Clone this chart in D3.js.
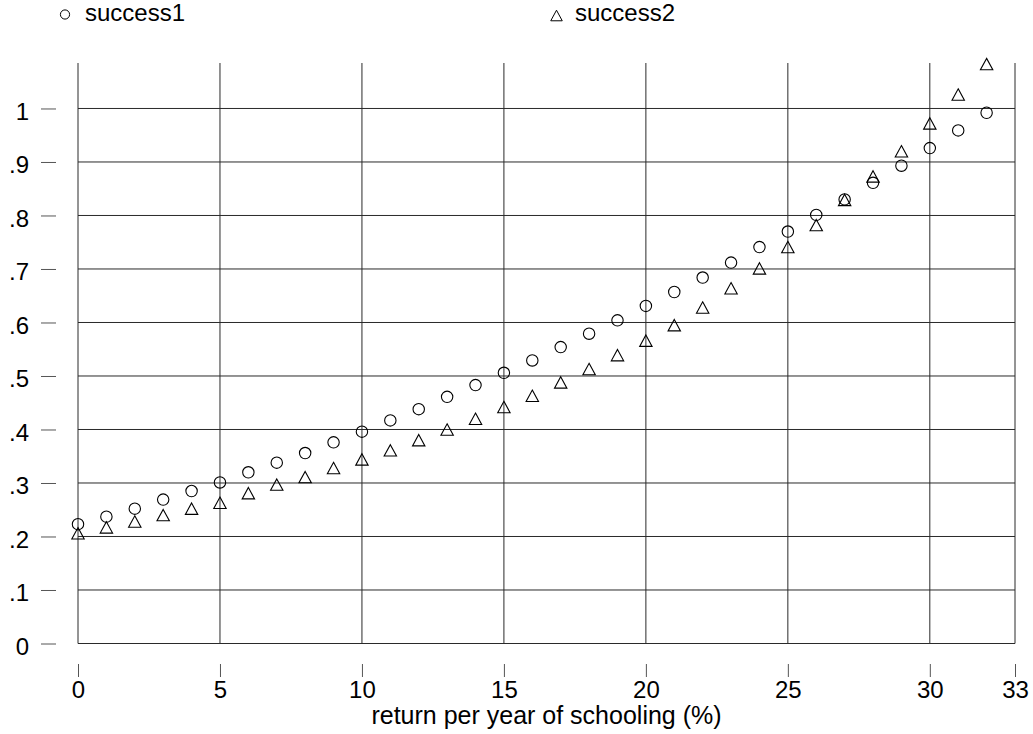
<!DOCTYPE html>
<html>
<head>
<meta charset="utf-8">
<script src="https://cdn.jsdelivr.net/npm/d3@7"></script>
<style>
  html, body { margin: 0; padding: 0; background: #fff; }
  svg { display: block; font-family: "Liberation Sans", Arial, sans-serif; }
</style>
</head>
<body>
<svg id="chart" width="1033" height="734"></svg>
<script>
// ---- data ----
const returns = [0,1,2,3,4,5,6,7,8,9,10,11,12,13,14,15,16,17,18,19,20,21,22,23,24,25,26,27,28,29,30,31,32];
const success1 = [.223,.237,.252,.269,.285,.301,.320,.338,.356,.376,.396,.417,.438,.461,.483,.506,.529,.554,.579,.604,.631,.657,.684,.712,.741,.770,.801,.830,.861,.893,.926,.959,.992];
const success2 = [.206,.217,.228,.240,.252,.263,.281,.297,.311,.328,.344,.361,.380,.400,.420,.442,.463,.488,.513,.539,.566,.595,.628,.664,.701,.741,.782,.829,.873,.920,.972,1.026,1.083];
const xTicks = [0,5,10,15,20,25,30,33];
const yTicks = [0,.1,.2,.3,.4,.5,.6,.7,.8,.9,1];
const yTickLabels = ["0",".1",".2",".3",".4",".5",".6",".7",".8",".9","1"];
const seriesNames = ["success1","success2"];
const xTitle = "return per year of schooling (%)";

// ---- layout ----
const svg = d3.select("#chart");
const x = d3.scaleLinear().domain([0,33]).range([78,1015]);
const y = d3.scaleLinear().domain([0,1.085]).range([643.5,63]);
const gridColor = "#2a2a2a";
const fontSize = 24;

// grid
const grid = svg.append("g");
grid.selectAll("line.h").data(yTicks).join("line")
  .attr("x1", x(0)).attr("x2", x(33))
  .attr("y1", d => y(d)).attr("y2", d => y(d))
  .attr("stroke", gridColor).attr("stroke-width", 1);
grid.selectAll("line.v").data(xTicks).join("line")
  .attr("x1", d => x(d)).attr("x2", d => x(d))
  .attr("y1", y(0)).attr("y2", y(1.085))
  .attr("stroke", gridColor).attr("stroke-width", 1);

// y axis (detached ticks)
const yAxis = d3.axisLeft(y).tickValues(yTicks)
  .tickFormat((d,i) => yTickLabels[i]).tickSize(15).tickPadding(12);
const gy = svg.append("g").attr("transform","translate(56,0)").call(yAxis);
gy.select(".domain").remove();
gy.selectAll(".tick line").attr("stroke","#555");
gy.selectAll(".tick text").attr("font-size", fontSize).attr("fill","#000")
  .attr("font-family", "Liberation Sans, Arial, sans-serif").attr("dy","0.45em");

// x axis (detached ticks)
const xAxis = d3.axisBottom(x).tickValues(xTicks).tickFormat(d3.format("d"))
  .tickSize(13).tickPadding(4);
const gx = svg.append("g").attr("transform","translate(0,664)").call(xAxis);
gx.select(".domain").remove();
gx.selectAll(".tick line").attr("stroke","#555");
gx.selectAll(".tick text").attr("font-size", fontSize).attr("fill","#000")
  .attr("font-family", "Liberation Sans, Arial, sans-serif");

// x title
svg.append("text").attr("x", (x(0)+x(33))/2).attr("y", 724)
  .attr("text-anchor","middle").attr("font-size", 25).text(xTitle);

// markers
const tri = s => `M0,${-s*0.46}L${s/2},${s*0.46}L${-s/2},${s*0.46}Z`;
svg.append("g").selectAll("circle").data(returns).join("circle")
  .attr("cx", d => x(d)).attr("cy", (d,i) => y(success1[i])).attr("r", 5.7)
  .attr("fill","none").attr("stroke","#000").attr("stroke-width",1.1);
svg.append("g").selectAll("path").data(returns).join("path")
  .attr("transform", (d,i) => `translate(${x(d)},${y(success2[i])})`)
  .attr("d", tri(12.4))
  .attr("fill","none").attr("stroke","#000").attr("stroke-width",1.1);

// legend
const leg = svg.append("g");
leg.append("circle").attr("cx",65).attr("cy",14.5).attr("r",4.6)
  .attr("fill","none").attr("stroke","#000").attr("stroke-width",1);
leg.append("text").attr("x",85).attr("y",21).attr("font-size",fontSize).text(seriesNames[0]);
leg.append("path").attr("transform","translate(556.5,15.5)").attr("d", tri(11.5))
  .attr("fill","none").attr("stroke","#000").attr("stroke-width",1);
leg.append("text").attr("x",575).attr("y",21).attr("font-size",fontSize).text(seriesNames[1]);
</script>
</body>
</html>
